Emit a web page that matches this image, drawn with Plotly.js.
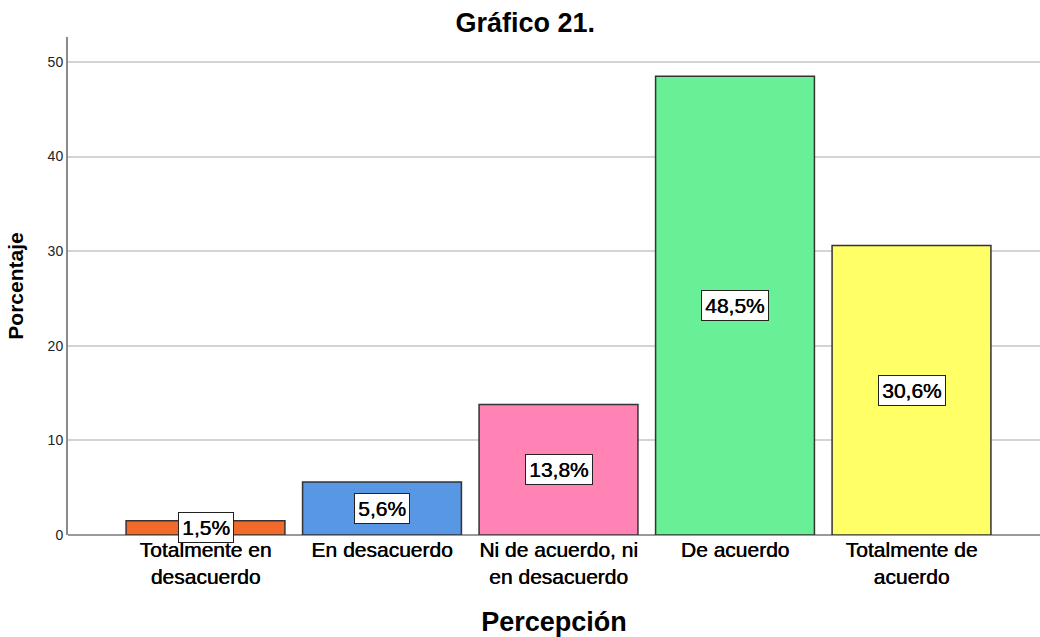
<!DOCTYPE html>
<html>
<head>
<meta charset="utf-8">
<script src="https://cdn.plot.ly/plotly-3.0.1.min.js"></script>
<style>html,body{margin:0;padding:0;background:#fff;}#chart{width:1040px;height:637px;}</style>
</head>
<body>
<div id="chart"></div>
<script>
var categories = ["Totalmente en<br>desacuerdo", "En desacuerdo", "Ni de acuerdo, ni<br>en desacuerdo", "De acuerdo", "Totalmente de<br>acuerdo"];
var values = [1.5, 5.6, 13.8, 48.5, 30.6];
var labels = ["1,5%", "5,6%", "13,8%", "48,5%", "30,6%"];
var colors = ["#F26A2B", "#5797E4", "#FF83B4", "#69F097", "#FFFF66"];
var yTicks = [0, 10, 20, 30, 40, 50];

var FONT = "Liberation Sans, Arial, sans-serif";
var HEAVY = "0.5px 0 0 #000";

var trace = {
  type: "bar",
  x: categories,
  y: values,
  marker: {color: colors, line: {color: "#333333", width: 1.5}},
  hoverinfo: "skip"
};

var annotations = categories.map(function (c, i) {
  return {
    x: c, y: values[i] / 2, xref: "x", yref: "y",
    text: labels[i], showarrow: false,
    font: {family: FONT, size: 21, color: "#000", shadow: HEAVY},
    bgcolor: "#ffffff", bordercolor: "#222222", borderwidth: 1, borderpad: 3
  };
});

var layout = {
  width: 1040, height: 637,
  margin: {l: 68, r: 0, t: 37, b: 102},
  paper_bgcolor: "#ffffff", plot_bgcolor: "#ffffff",
  bargap: 0.1,
  showlegend: false,
  title: {text: "<b>Gráfico 21.</b>", x: 0.505, xanchor: "center", y: 0.965, yanchor: "middle",
          font: {family: FONT, size: 27, color: "#000"}},
  xaxis: {
    type: "category", range: [-0.779, 4.728],
    showgrid: false, zeroline: false,
    showline: false, ticks: "",
    tickfont: {family: FONT, size: 21, color: "#000", shadow: HEAVY},
    title: {text: "<b>Percepción</b>", standoff: 26,
            font: {family: FONT, size: 27, color: "#000"}}
  },
  yaxis: {
    range: [0, 52.64], tickvals: yTicks, ticktext: yTicks.map(String),
    showgrid: true, gridcolor: "#d4d4d4", gridwidth: 2,
    zeroline: true, zerolinecolor: "#9a9a9a", zerolinewidth: 2,
    showline: true, linecolor: "#8a8a8a", linewidth: 2,
    ticks: "", ticklen: 0,
    tickfont: {family: FONT, size: 14, color: "#222"},
    title: {text: "<b>Porcentaje</b>", standoff: 18,
            font: {family: FONT, size: 21, color: "#000"}}
  },
  annotations: annotations
};

Plotly.newPlot("chart", [trace], layout, {displayModeBar: false, staticPlot: true});
</script>
</body>
</html>
